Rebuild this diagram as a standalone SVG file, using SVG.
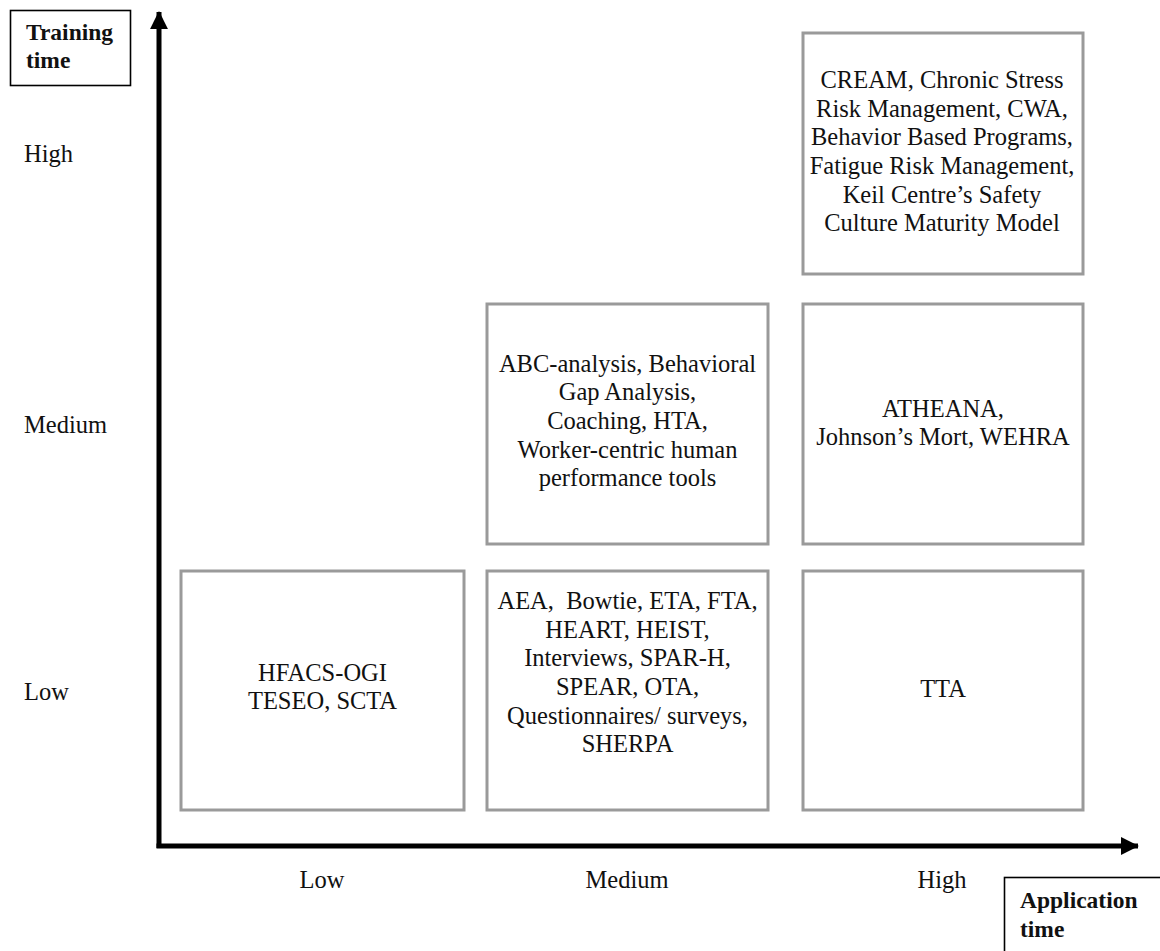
<svg xmlns="http://www.w3.org/2000/svg" width="1160" height="951" viewBox="0 0 1160 951">
  <style>
    .cell { fill: #ffffff; stroke: #9a9a9a; stroke-width: 3; }
    .label { fill: #000000; stroke: #000000; stroke-width: 1.6; }
    .axis { stroke: #000000; stroke-width: 5; fill: none; }
    .t { font-family: "Liberation Serif", "Times New Roman", serif; font-size: 24.5px; fill: #111111; }
    .c { text-anchor: middle; }
    .b { font-weight: bold; font-size: 23.5px; }
  </style>
  <defs>
    <marker id="head" viewBox="0 0 10 10" refX="9.5" refY="5" markerWidth="3.6" markerHeight="3.6" markerUnits="strokeWidth" orient="auto">
      <path d="M0,0 L10,5 L0,10 Z" fill="#000000"/>
    </marker>
  </defs>
  <rect width="1160" height="951" fill="#ffffff"/>

  <!-- axes -->
  <g id="connectors">
    <line class="axis" x1="159" y1="848" x2="159" y2="12" marker-end="url(#head)"/>
    <line class="axis" x1="156.5" y1="846" x2="1138" y2="846" marker-end="url(#head)"/>
  </g>

  <!-- axis titles -->
  <g id="y-title">
    <rect x="10.5" y="10.5" width="120" height="75" fill="#ffffff" stroke="#000000" stroke-width="1.6"/>
    <text class="t b" x="26" y="40">Training</text>
    <text class="t b" x="26" y="68">time</text>
  </g>
  <g id="x-title">
    <rect x="1004.5" y="877.5" width="200" height="120" fill="#ffffff" stroke="#000000" stroke-width="1.6"/>
    <text class="t b" x="1020" y="908">Application</text>
    <text class="t b" x="1020" y="937">time</text>
  </g>

  <!-- level labels -->
  <g id="y-levels">
    <text class="t" x="24" y="162">High</text>
    <text class="t" x="24" y="433">Medium</text>
    <text class="t" x="24" y="700">Low</text>
  </g>
  <g id="x-levels">
    <text class="t c" x="322" y="888">Low</text>
    <text class="t c" x="627" y="888">Medium</text>
    <text class="t c" x="942" y="888">High</text>
  </g>

  <!-- cells: application time (column) x training time (row) -->
  <g id="low-low">
    <rect class="cell" x="181" y="571" width="283" height="239"/>
    <text class="t c" x="322.5" y="681">HFACS-OGI</text>
    <text class="t c" x="322.5" y="709">TESEO, SCTA</text>
  </g>

  <g id="medium-low">
    <rect class="cell" x="487" y="571" width="281" height="239"/>
    <text class="t c" x="627.5" y="609" xml:space="preserve">AEA,  Bowtie, ETA, FTA,</text>
    <text class="t c" x="627.5" y="638">HEART, HEIST,</text>
    <text class="t c" x="627.5" y="666">Interviews, SPAR-H,</text>
    <text class="t c" x="627.5" y="695">SPEAR, OTA,</text>
    <text class="t c" x="627.5" y="724">Questionnaires/ surveys,</text>
    <text class="t c" x="627.5" y="752">SHERPA</text>
  </g>

  <g id="medium-medium">
    <rect class="cell" x="487" y="304" width="281" height="240"/>
    <text class="t c" x="627.5" y="372">ABC-analysis, Behavioral</text>
    <text class="t c" x="627.5" y="400">Gap Analysis,</text>
    <text class="t c" x="627.5" y="429">Coaching, HTA,</text>
    <text class="t c" x="627.5" y="458">Worker-centric human</text>
    <text class="t c" x="627.5" y="486">performance tools</text>
  </g>

  <g id="high-low">
    <rect class="cell" x="803" y="571" width="280" height="239"/>
    <text class="t c" x="943" y="697">TTA</text>
  </g>

  <g id="high-medium">
    <rect class="cell" x="803" y="304" width="280" height="240"/>
    <text class="t c" x="943" y="417">ATHEANA,</text>
    <text class="t c" x="943" y="445">Johnson’s Mort, WEHRA</text>
  </g>

  <g id="high-high">
    <rect class="cell" x="803" y="33" width="280" height="241"/>
    <text class="t c" x="942" y="88">CREAM, Chronic Stress</text>
    <text class="t c" x="942" y="117">Risk Management, CWA,</text>
    <text class="t c" x="942" y="145">Behavior Based Programs,</text>
    <text class="t c" x="942" y="174">Fatigue Risk Management,</text>
    <text class="t c" x="942" y="203">Keil Centre’s Safety</text>
    <text class="t c" x="942" y="231">Culture Maturity Model</text>
  </g>
</svg>
